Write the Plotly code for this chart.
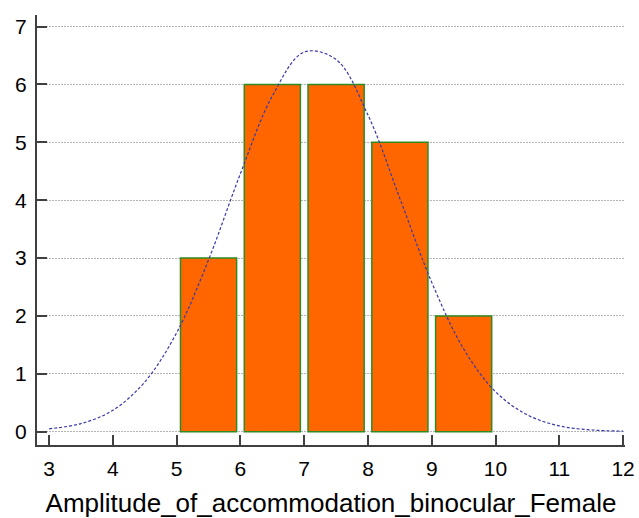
import plotly.graph_objects as go

bin_centers = [5.5, 6.5, 7.5, 8.5, 9.5]
counts = [3, 6, 6, 5, 2]

curve_x = [3, 3.5, 4, 4.5, 5, 5.5, 6, 6.5, 7, 7.5, 8, 8.5, 9, 9.5, 10, 10.5, 11, 11.5, 12]
curve_y = [0.05, 0.14, 0.37, 0.86, 1.71, 2.97, 4.46, 5.80, 6.56, 6.43, 5.47, 4.03, 2.58, 1.43, 0.69, 0.29, 0.10, 0.03, 0.01]

x_ticks = [3, 4, 5, 6, 7, 8, 9, 10, 11, 12]
y_ticks = [0, 1, 2, 3, 4, 5, 6, 7]
x_title = "Amplitude_of_accommodation_binocular_Female"

fig = go.Figure()
fig.add_trace(go.Bar(
    x=bin_centers, y=counts, width=0.88,
    marker=dict(color="#FF6600", line=dict(color="#2E8B22", width=1.5)),
    showlegend=False, hoverinfo="skip"))
fig.add_trace(go.Scatter(
    x=curve_x, y=curve_y, mode="lines",
    line=dict(color="#3838A8", width=1.2, dash="3px,2px", shape="spline"),
    showlegend=False, hoverinfo="skip"))

axis_common = dict(
    showline=True, linecolor="#404040", linewidth=2,
    ticks="inside", ticklen=10, tickwidth=2, tickcolor="#404040",
    tickfont=dict(family="Liberation Sans, Arial", size=21, color="#000"),
    zeroline=False, mirror=False, automargin=False)

fig.update_layout(
    width=639, height=518,
    margin=dict(l=37, r=14, t=15, b=73),
    paper_bgcolor="white", plot_bgcolor="white",
    font=dict(family="Liberation Sans, Arial", color="#000"),
    xaxis=dict(range=[2.81, 12.03], tickvals=x_ticks, showgrid=False,
               ticklabelstandoff=4,
               title=dict(text=x_title, font=dict(size=26), standoff=17),
               **axis_common),
    yaxis=dict(range=[-0.23, 7.2], tickvals=y_ticks, showgrid=True,
               gridcolor="#B4B4B4", griddash="2px,1px", gridwidth=1,
               ticklabelstandoff=4,
               **axis_common),
)

fig.write_html("out.html", config={"displayModeBar": False},
               post_script="document.body.style.margin='0';")
